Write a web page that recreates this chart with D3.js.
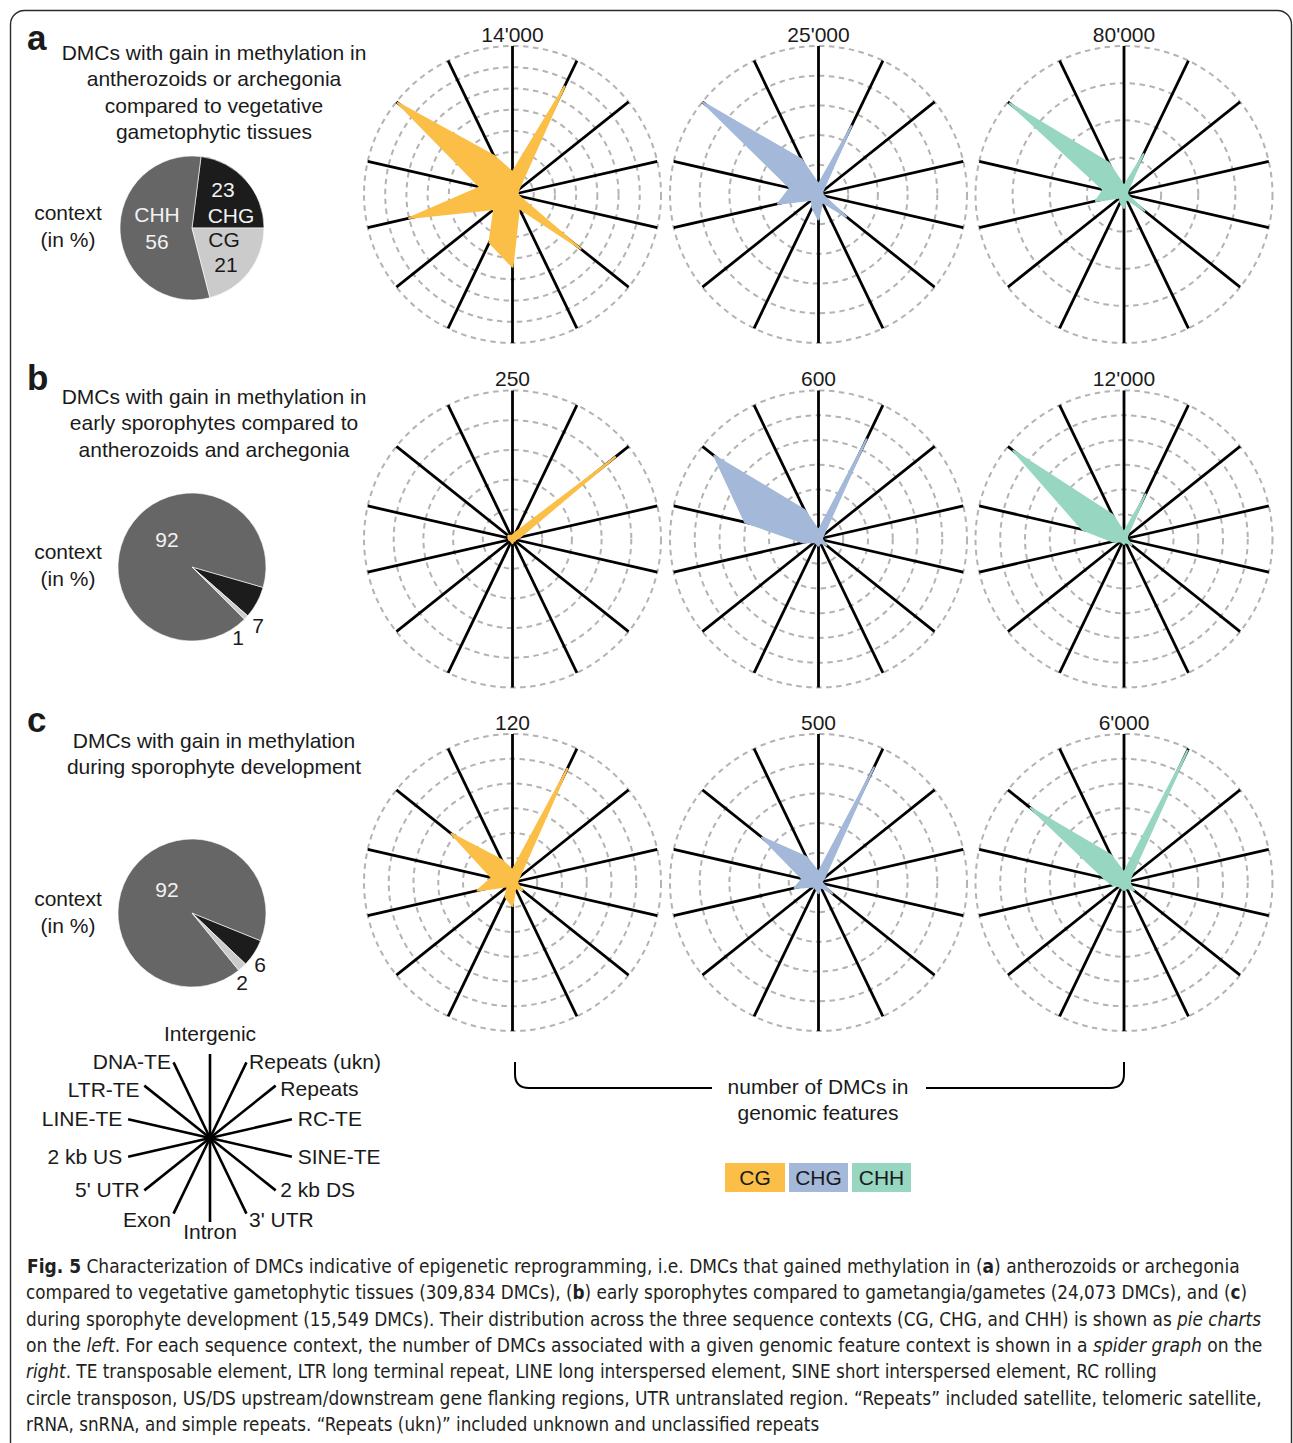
<!DOCTYPE html>
<html>
<head>
<meta charset="utf-8">
<script src="https://cdn.jsdelivr.net/npm/d3@7/dist/d3.min.js"></script>
<style>
  html, body { margin: 0; padding: 0; background: #ffffff; }
  svg { display: block; }
  text { font-family: "Liberation Sans", Arial, Helvetica, sans-serif; fill: #1a1a1a; }
  .cap { font-family: "Liberation Sans Narrow", "DejaVu Sans Condensed", "Liberation Sans", sans-serif; fill: #231f20; }
</style>
</head>
<body>
<svg id="fig" width="1293" height="1443"></svg>
<script>
// ---- genomic features (spider axes, clockwise from top) ----
const features = ["Intergenic", "Repeats (ukn)", "Repeats", "RC-TE", "SINE-TE", "2 kb DS",
                  "3' UTR", "Intron", "Exon", "5' UTR", "2 kb US", "LINE-TE", "LTR-TE", "DNA-TE"];
const contexts = ["CG", "CHG", "CHH"];
const contextColors = ["#fbbf47", "#a4b9d9", "#97d6c1"];

// ---- panel titles ----
const panelLetters = ["a", "b", "c"];
const panelTitles = [
  ["DMCs with gain in methylation in", "antherozoids or archegonia", "compared to vegetative", "gametophytic tissues"],
  ["DMCs with gain in methylation in", "early sporophytes compared to", "antherozoids and archegonia"],
  ["DMCs with gain in methylation", "during sporophyte development"]
];

// ---- context shares (%) per panel: CG, CHG, CHH ----
const pieA = [21, 23, 56];
const pieB = [1, 7, 92];
const pieC = [2, 6, 92];

// ---- spider axis maxima and ring counts ----
const axisMaxA = [14000, 25000, 80000];
const axisMaxB = [250, 600, 12000];
const axisMaxC = [120, 500, 6000];
const ringsA = [7, 5, 4];
const ringsB = [5, 6, 6];
const ringsC = [6, 5, 6];
const axisTitlesA = ["14'000", "25'000", "80'000"];
const axisTitlesB = ["250", "600", "12'000"];
const axisTitlesC = ["120", "500", "6'000"];

// ---- number of DMCs per genomic feature (order as in `features`) ----
const aCG  = [2100, 11300, 700, 500, 600, 8200, 1400, 6800, 5000, 2200, 10000, 3100, 13850, 4050];
const aCHG = [1700, 12800, 850, 680, 850, 5950, 1400, 4200, 2400, 1400, 7000, 4900, 24900, 6500];
const aCHH = [4500, 24100, 2200, 1800, 2200, 14000, 2700, 7200, 4500, 2700, 15500, 11300, 78700, 18700];

const bCG  = [6, 12, 221, 12, 5, 5, 4, 7, 5, 4, 6, 7, 9, 6];
const bCHG = [34, 447, 25, 14, 16, 40, 16, 27, 20, 20, 63, 304, 538, 130];
const bCHH = [540, 4000, 300, 270, 270, 760, 270, 400, 320, 320, 900, 3430, 11430, 2160];

const cCG  = [10, 102, 7, 4, 4, 10, 5, 19, 13, 5, 29, 17, 63, 20];
const cCHG = [35, 430, 25, 11, 14, 59, 17, 36, 22, 22, 82, 56, 243, 96];
const cCHH = [400, 5910, 350, 250, 250, 510, 250, 300, 250, 250, 470, 840, 4830, 1230];

// ---- caption ----
const captionLines = [
  [["Fig. 5", "b"], [" Characterization of DMCs indicative of epigenetic reprogramming, i.e. DMCs that gained methylation in (", ""], ["a", "b"], [") antherozoids or archegonia", ""]],
  [["compared to vegetative gametophytic tissues (309,834 DMCs), (", ""], ["b", "b"], [") early sporophytes compared to gametangia/gametes (24,073 DMCs), and (", ""], ["c", "b"], [")", ""]],
  [["during sporophyte development (15,549 DMCs). Their distribution across the three sequence contexts (CG, CHG, and CHH) is shown as ", ""], ["pie charts", "i"]],
  [["on the ", ""], ["left", "i"], [". For each sequence context, the number of DMCs associated with a given genomic feature context is shown in a ", ""], ["spider graph", "i"], [" on the", ""]],
  [["right", "i"], [". TE transposable element, LTR long terminal repeat, LINE long interspersed element, SINE short interspersed element, RC rolling", ""]],
  [["circle transposon, US/DS upstream/downstream gene flanking regions, UTR untranslated region. \u201cRepeats\u201d included satellite, telomeric satellite,", ""]],
  [["rRNA, snRNA, and simple repeats. \u201cRepeats (ukn)\u201d included unknown and unclassified repeats", ""]]
];

// ================= layout =================
const svg = d3.select("#fig");
const FS = 21;

const rowY = [194.5, 539, 882.5];          // spider centres, per row
const colX = [512.5, 818.5, 1124];         // spider centres, per column
const R = 148.5;
const rows = [
  { pie: pieA, max: axisMaxA, rings: ringsA, titles: axisTitlesA, series: [aCG, aCHG, aCHH] },
  { pie: pieB, max: axisMaxB, rings: ringsB, titles: axisTitlesB, series: [bCG, bCHG, bCHH] },
  { pie: pieC, max: axisMaxC, rings: ringsC, titles: axisTitlesC, series: [cCG, cCHG, cCHH] }
];

// frame
svg.append("rect")
  .attr("x", 10.5).attr("y", 10.5).attr("width", 1281).attr("height", 1470)
  .attr("rx", 14).attr("fill", "none").attr("stroke", "#2a2a2a").attr("stroke-width", 1.4);

const angleOf = i => i * 2 * Math.PI / features.length;

// ---- spider graphs ----
rows.forEach((row, ri) => {
  contexts.forEach((ctx, ci) => {
    const g = svg.append("g").attr("transform", `translate(${colX[ci]},${rowY[ri]})`);
    const r = d3.scaleLinear().domain([0, row.max[ci]]).range([0, R]);
    const ticks = d3.range(1, row.rings[ci] + 1).map(k => k * row.max[ci] / row.rings[ci]);

    g.selectAll("circle.ring").data(ticks).join("circle")
      .attr("class", "ring")
      .attr("r", d => r(d))
      .attr("fill", "none")
      .attr("stroke", "#b3b3b3")
      .attr("stroke-width", 2)
      .attr("stroke-dasharray", "5.5,4.5");

    g.selectAll("line.axis").data(features).join("line")
      .attr("class", "axis")
      .attr("x1", 0).attr("y1", 0)
      .attr("x2", (d, i) => R * Math.sin(angleOf(i)))
      .attr("y2", (d, i) => -R * Math.cos(angleOf(i)))
      .attr("stroke", "#000")
      .attr("stroke-width", 2.8);

    const radial = d3.lineRadial()
      .angle((d, i) => angleOf(i))
      .radius(d => r(d))
      .curve(d3.curveLinearClosed);

    g.append("path")
      .attr("d", radial(row.series[ci]))
      .attr("fill", contextColors[ci])
      .attr("stroke", contextColors[ci])
      .attr("stroke-width", 2)
      .attr("stroke-linejoin", "round");

    g.append("text")
      .attr("x", 0).attr("y", -R - 4.5)
      .attr("text-anchor", "middle")
      .attr("font-size", FS)
      .text(row.titles[ci]);
  });
});

// ---- panel letters and titles ----
const titleBase = [60, 404, 748];
const letterBase = [50, 390, 732];
panelLetters.forEach((l, i) => {
  svg.append("text").attr("x", 27).attr("y", letterBase[i])
    .attr("font-size", 35).attr("font-weight", "bold").attr("fill", "#111").text(l);
  panelTitles[i].forEach((t, j) => {
    svg.append("text").attr("x", 214).attr("y", titleBase[i] + j * 26.4)
      .attr("text-anchor", "middle").attr("font-size", FS).text(t);
  });
});

// ---- pies ----
const pieCentres = [[192, 228, 72], [192, 567, 74], [192, 913, 74]];
const pieStart = [90, 131.2, 133.6];       // degrees clockwise from top where the CHG slice starts
const pieFill = ["#cbcbcb", "#1c1c1c", "#666666"];
const contextLabelBase = [220, 559, 906];

rows.forEach((row, ri) => {
  const [cx, cy, pr] = pieCentres[ri];
  const g = svg.append("g").attr("transform", `translate(${cx},${cy})`);
  // slices run counter-clockwise from pieStart: CHG, then CHH, then CG
  const order = [1, 2, 0];
  const s0 = pieStart[ri] * Math.PI / 180;
  const pie = d3.pie().sort(null).value(d => row.pie[d])
    .startAngle(s0).endAngle(s0 - 2 * Math.PI);
  const arc = d3.arc().innerRadius(0).outerRadius(pr);
  g.selectAll("path").data(pie(order)).join("path")
    .attr("d", arc)
    .attr("fill", d => pieFill[d.data])
    .attr("stroke", "#ffffff").attr("stroke-width", 0.6);

  svg.append("text").attr("x", 68).attr("y", contextLabelBase[ri])
    .attr("text-anchor", "middle").attr("font-size", FS).text("context");
  svg.append("text").attr("x", 68).attr("y", contextLabelBase[ri] + 27)
    .attr("text-anchor", "middle").attr("font-size", FS).text("(in %)");
});

// pie slice labels
const pieLabels = [
  { x: 223, y: 197, t: String(pieA[1]), c: "#f2f2f2" },
  { x: 231, y: 223, t: "CHG", c: "#f2f2f2" },
  { x: 157, y: 222, t: "CHH", c: "#f2f2f2" },
  { x: 157, y: 249, t: String(pieA[2]), c: "#f2f2f2" },
  { x: 224, y: 247, t: "CG", c: "#1a1a1a" },
  { x: 226, y: 272, t: String(pieA[0]), c: "#1a1a1a" },
  { x: 167, y: 547, t: String(pieB[2]), c: "#f2f2f2" },
  { x: 258, y: 633, t: String(pieB[1]), c: "#1a1a1a" },
  { x: 238, y: 645, t: String(pieB[0]), c: "#1a1a1a" },
  { x: 167, y: 897, t: String(pieC[2]), c: "#f2f2f2" },
  { x: 260, y: 972, t: String(pieC[1]), c: "#1a1a1a" },
  { x: 242, y: 990, t: String(pieC[0]), c: "#1a1a1a" }
];
svg.selectAll("text.pl").data(pieLabels).join("text")
  .attr("class", "pl")
  .attr("x", d => d.x).attr("y", d => d.y)
  .attr("text-anchor", "middle").attr("font-size", FS)
  .style("fill", d => d.c)
  .text(d => d.t);

// ---- feature key ----
const key = svg.append("g").attr("transform", "translate(210,1138)");
const KR = 84;
const keyNudgeY = { 2: 3, 6: 6, 8: 6, 12: 4 };
key.selectAll("line").data(features).join("line")
  .attr("x1", 0).attr("y1", 0)
  .attr("x2", (d, i) => KR * Math.sin(angleOf(i)))
  .attr("y2", (d, i) => -KR * Math.cos(angleOf(i)))
  .attr("stroke", "#000").attr("stroke-width", 2.6);
key.selectAll("text").data(features).join("text")
  .attr("x", (d, i) => 90 * Math.sin(angleOf(i)))
  .attr("y", (d, i) => {
    const c = Math.cos(angleOf(i));
    if (i === 0) return -97;
    if (i === 7) return 101;
    return -84 * c + 7 + (keyNudgeY[i] || 0);
  })
  .attr("text-anchor", (d, i) => {
    const s = Math.sin(angleOf(i));
    return s > 0.1 ? "start" : s < -0.1 ? "end" : "middle";
  })
  .attr("font-size", FS)
  .text(d => d);

// ---- bracket ----
const bx0 = colX[0] + 2.5, bx1 = colX[2], by = 1088, btop = 1062;
svg.append("path")
  .attr("d", `M${bx0},${btop} L${bx0},${by - 14} Q${bx0},${by} ${bx0 + 14},${by} L712,${by}
              M926,${by} L${bx1 - 14},${by} Q${bx1},${by} ${bx1},${by - 14} L${bx1},${btop}`)
  .attr("fill", "none").attr("stroke", "#000").attr("stroke-width", 2);
svg.append("text").attr("x", 818).attr("y", 1094).attr("text-anchor", "middle")
  .attr("font-size", FS).text("number of DMCs in");
svg.append("text").attr("x", 818).attr("y", 1120).attr("text-anchor", "middle")
  .attr("font-size", FS).text("genomic features");

// ---- colour legend ----
const legX = [725, 789, 852], legW = [60, 59, 59];
contexts.forEach((c, i) => {
  svg.append("rect").attr("x", legX[i]).attr("y", 1163).attr("width", legW[i]).attr("height", 29)
    .attr("fill", contextColors[i]);
  svg.append("text").attr("x", legX[i] + legW[i] / 2).attr("y", 1185)
    .attr("text-anchor", "middle").attr("font-size", FS).text(c);
});

// ---- caption ----
const capX = [27, 26, 26, 26, 26, 26, 26];
const capEnd = [1240, 1248, 1262, 1263, 1158, 1262, 820];
captionLines.forEach((parts, i) => {
  const y = 1273 + i * 26.3;
  const t = svg.append("text").attr("class", "cap").attr("x", 0).attr("y", 0)
    .attr("font-size", 20);
  parts.forEach(([s, st]) => {
    const sp = t.append("tspan").text(s);
    if (st === "b") sp.attr("font-weight", "bold");
    if (st === "i") sp.attr("font-style", "italic");
  });
  const w = t.node().getBBox().width;
  const k = (capEnd[i] - capX[i]) / w;
  t.attr("transform", `translate(${capX[i]},${y}) scale(${k},1)`);
});
</script>
</body>
</html>
